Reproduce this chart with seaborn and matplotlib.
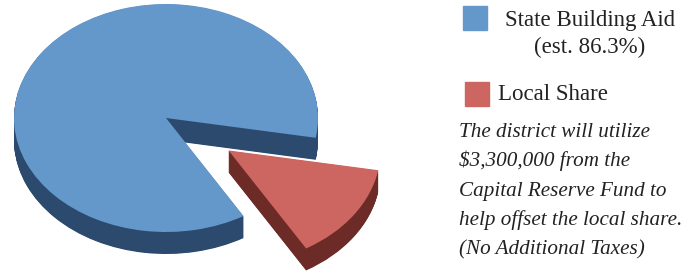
import numpy as np
import seaborn as sns
import matplotlib.pyplot as plt

sns.set_theme(style="white")
plt.rcParams['font.family'] = ['Liberation Serif', 'DejaVu Serif']

# data
labels = ['State Building Aid', 'Local Share']
shares = [86.3, 13.7]
explode = [0.0, 0.5]
top_colors = ['#6497ca', '#cd6661']
side_colors = ['#2b4a6d', '#6c2b27']

note_lines = ["The district will utilize",
              "$3,300,000 from the",
              "Capital Reserve Fund to",
              "help offset the local share.",
              "(No Additional Taxes)"]

W, H = 693, 278
fig = plt.figure(figsize=(W / 100, H / 100), dpi=100)
ax = fig.add_axes([0, 0, 1, 1])

# pie centre in pixels and radii of the tilted ellipse
cx, cy = 166, 118
rx, ry = 152, 114
depth = 22 / ry

# extruded sides: stack darker pies downwards, then the top face
n_layers = 40
for k in range(n_layers, 0, -1):
    ax.pie(shares, explode=explode, startangle=-10, colors=side_colors,
           center=(0, -depth * k / n_layers), radius=1,
           wedgeprops=dict(linewidth=0))
ax.pie(shares, explode=explode, startangle=-10, colors=top_colors,
       center=(0, 0), radius=1, wedgeprops=dict(linewidth=0))

ax.set_aspect('auto')
ax.set_xlim(-cx / rx, (W - cx) / rx)
ax.set_ylim(-(H - cy) / ry, cy / ry)
ax.axis('off')

# legend drawn as figure text
txt = '#222222'
def px(x, y):
    return x / W, 1 - y / H

fig.patches.append(plt.Rectangle(px(463, 30), 24 / W, 24 / H, color=top_colors[0],
                                 transform=fig.transFigure))
fig.patches.append(plt.Rectangle(px(465, 106), 24 / W, 24 / H, color=top_colors[1],
                                 transform=fig.transFigure))
fig.text(*px(590, 26), labels[0], ha='center', va='baseline', fontsize=16.5, color=txt)
fig.text(*px(590, 53), '(est. 86.3%)', ha='center', va='baseline', fontsize=16.5, color=txt)
fig.text(*px(498, 100), labels[1], ha='left', va='baseline', fontsize=16.5, color=txt)
for i, line in enumerate(note_lines):
    fig.text(*px(459, 137 + i * 29.3), line, ha='left', va='baseline', fontsize=15.2,
             style='italic', color=txt)

fig.savefig('out.png', dpi=100)
